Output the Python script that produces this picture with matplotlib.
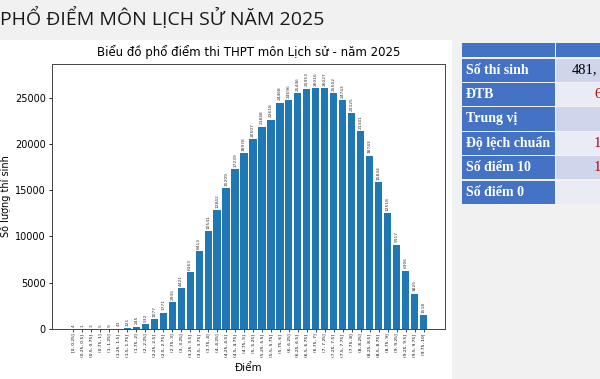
import matplotlib.pyplot as plt
from matplotlib.patches import Rectangle

# bins of 0.25 points, number of candidates per bin
bin_labels = [
    "[0, 0.25]", "(0.25, 0.5]", "(0.5, 0.75]", "(0.75, 1]", "(1, 1.25]",
    "(1.25, 1.5]", "(1.5, 1.75]", "(1.75, 2]", "(2, 2.25]", "(2.25, 2.5]",
    "(2.5, 2.75]", "(2.75, 3]", "(3, 3.25]", "(3.25, 3.5]", "(3.5, 3.75]",
    "(3.75, 4]", "(4, 4.25]", "(4.25, 4.5]", "(4.5, 4.75]", "(4.75, 5]",
    "(5, 5.25]", "(5.25, 5.5]", "(5.5, 5.75]", "(5.75, 6]", "(6, 6.25]",
    "(6.25, 6.5]", "(6.5, 6.75]", "(6.75, 7]", "(7, 7.25]", "(7.25, 7.5]",
    "(7.5, 7.75]", "(7.75, 8]", "(8, 8.25]", "(8.25, 8.5]", "(8.5, 8.75]",
    "(8.75, 9]", "(9, 9.25]", "(9.25, 9.5]", "(9.5, 9.75]", "(9.75, 10]",
]
counts = [
    4, 1, 3, 5, 9, 41, 121, 245, 532, 1077,
    1771, 2935, 4421, 6163, 8413, 10541, 12842, 15209, 17239, 18978,
    20507, 21848, 22618, 24468, 24696, 25446, 25953, 26016, 26027, 25502,
    24743, 23325, 21341, 18743, 15834, 12518, 9117, 6306, 3825, 1518,
]

# summary table on the right (cut off by the screenshot edge)
table_rows = ["Số thí sinh", "ĐTB", "Trung vị", "Độ lệch chuẩn", "Số điểm 10", "Số điểm 0"]
table_vals = ["481,", "6", "", "1", "1", ""]
val_colors = ["black", "#c00000", "#c00000", "#c00000", "#c00000", "black"]

W, H = 600, 379
fig = plt.figure(figsize=(6, 3.79), dpi=100, facecolor="#f1f1f1")


def px(x, y):
    return x / W, 1 - y / H


# white panel behind the chart
fig.patches.append(Rectangle(px(0, 379), 452 / W, 339 / H, transform=fig.transFigure,
                             facecolor="white", edgecolor="none", zorder=-10))

fig.text(*px(0, 18), "PHỔ ĐIỂM MÔN LỊCH SỬ NĂM 2025", fontsize=14, family="Open Sans",
         color="#1a1a1a", va="center", ha="left")

ax = fig.add_axes([52 / W, 50 / H, 393 / W, 265 / H])
ax.set_zorder(5)
x = list(range(len(counts)))
bars = ax.bar(x, counts, width=0.8, color="#1f77b4")
for xi, c in zip(x, counts):
    ax.text(xi, c + 250, str(c), rotation=90, ha="center", va="bottom", fontsize=3.2, color="#333333")

ax.set_ylim(0, max(counts) * 1.1)
ax.set_xticks(x)
ax.set_xticklabels(bin_labels, rotation=90, fontsize=3.2)
ax.tick_params(axis="x", length=2, width=0.5, pad=1.5)
ax.tick_params(axis="y", labelsize=7, length=2.5, width=0.6, pad=2)
ax.set_xlabel("Điểm", fontsize=7.5, labelpad=4)
ax.set_ylabel("Số lượng thí sinh", fontsize=7, labelpad=3)
ax.set_title("Biểu đồ phổ điểm thi THPT môn Lịch sử - năm 2025", fontsize=8.5, pad=6)
for s in ax.spines.values():
    s.set_linewidth(0.7)
    s.set_color("#444444")

# table
blue = "#4472c4"
col0, col1, col_end = 462, 556, 640
fig.patches.append(Rectangle(px(col0, 57), (col1 - col0 - 1) / W, 14 / H, transform=fig.transFigure,
                             facecolor=blue, edgecolor="none"))
fig.patches.append(Rectangle(px(col1, 57), (col_end - col1) / W, 14 / H, transform=fig.transFigure,
                             facecolor=blue, edgecolor="none"))
row_h = 24.4
for i, (name, val, vc) in enumerate(zip(table_rows, table_vals, val_colors)):
    top = 58.5 + i * row_h
    bot = top + row_h - 1.2
    fig.patches.append(Rectangle(px(col0, bot), (col1 - col0 - 1) / W, (row_h - 1.2) / H,
                                 transform=fig.transFigure, facecolor=blue, edgecolor="none"))
    fill = "#cfd5ea" if i % 2 == 0 else "#e9ebf5"
    fig.patches.append(Rectangle(px(col1, bot), (col_end - col1) / W, (row_h - 1.2) / H,
                                 transform=fig.transFigure, facecolor=fill, edgecolor="none"))
    fig.text(*px(466, (top + bot) / 2), name, fontsize=10, family="Liberation Serif",
             weight="bold", color="white", va="center", ha="left")
    if val:
        vx = 572 if i == 0 else 594
        fig.text(*px(vx, (top + bot) / 2), val, fontsize=10.5, family="Liberation Serif",
                 color=vc, va="center", ha="left")

fig.savefig("out.png", dpi=100, facecolor=fig.get_facecolor())
